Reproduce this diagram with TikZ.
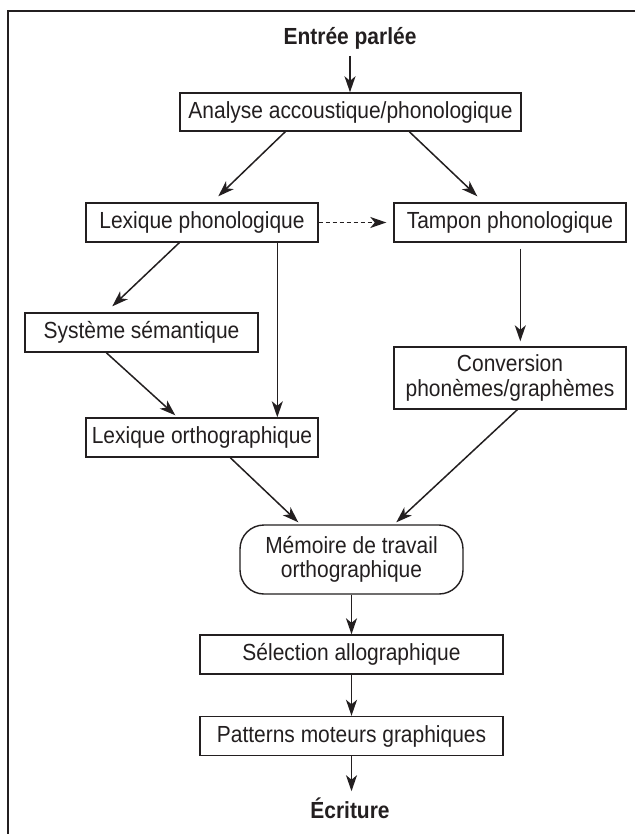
\documentclass[tikz,border=0pt]{standalone}
\usepackage{fontspec}
\setmainfont{Liberation Sans}[FakeStretch=0.9]
\usetikzlibrary{arrows.meta,calc}
\definecolor{ink}{HTML}{231F20}
\begin{document}
\begin{tikzpicture}[x=1pt,y=-1pt,
  every node/.style={font=\fontsize{23.3}{24.5}\selectfont, text=ink},
  boxnode/.style={draw=ink, line width=1.4pt, inner sep=0pt, align=center},
  memnode/.style={boxnode, rounded corners=24pt},
  titlenode/.style={font=\fontsize{23.3}{24.5}\selectfont\bfseries, anchor=base, inner sep=0pt},
  conn/.style={draw=ink, line width=1.5pt, -{Stealth[length=16pt,width=11pt,inset=4.5pt]}},
  dconn/.style={conn, dash pattern=on 4pt off 3pt}]
\useasboundingbox (0,0) rectangle (635,834);
\fill[white] (0,0) rectangle (635,834);
% frame
\coordinate (fr1) at (635,11);
\coordinate (fr2) at (8,11);
\coordinate (fr3) at (8,834);
\draw[ink, line width=1.7pt] (fr1) -- (fr2) -- (fr3);

\node[titlenode] (entree) at (350,45) {Entrée parlée};
\node[boxnode, minimum width=341pt, minimum height=38pt] (ana) at (350.5,112) {Analyse accoustique/phonologique};
\node[boxnode, minimum width=232pt, minimum height=39pt] (lp) at (202,222.5) {Lexique phonologique};
\node[boxnode, minimum width=232pt, minimum height=39pt] (tp) at (510,222.5) {Tampon phonologique};
\node[boxnode, minimum width=233pt, minimum height=39pt] (ss) at (141.5,332.5) {Système sémantique};
\node[boxnode, minimum width=232pt, minimum height=62pt] (conv) at (510,378) {Conversion\\phonèmes/graphèmes};
\node[boxnode, minimum width=232pt, minimum height=39pt] (lo) at (202,437.5) {Lexique orthographique};
\node[memnode, minimum width=223pt, minimum height=69pt] (mem) at (351.5,559.5) {Mémoire de travail\\orthographique};
\node[boxnode, minimum width=303pt, minimum height=39pt] (sel) at (351.5,654.5) {Sélection allographique};
\node[boxnode, minimum width=303pt, minimum height=39pt] (pat) at (351.5,736) {Patterns moteurs graphiques};
\node[titlenode] (ecr) at (350,818) {Écriture};

% connectors
\draw[conn] ($(entree.base)+(0,11)$) -- (ana.north -| entree.base);
\draw[conn] ($(ana.south west)+(106,0)$) -- ($(lp.north west)+(133,-6)$);
\draw[conn] ($(ana.south west)+(230,0)$) -- ($(tp.north west)+(84,-6)$);
\draw[dconn] (lp.east) -- ($(tp.west)+(-7,0)$);
\draw[conn] ($(lp.south west)+(94,0)$) -- ($(ss.north west)+(88,-6)$);
\draw[conn] ($(lp.south west)+(192,0)$) -- ($(lo.north west)+(192,0)$);
\draw[conn] ($(tp.south west)+(127,6)$) -- ($(conv.north west)+(127,-5)$);
\draw[conn] ($(ss.south west)+(82,0)$) -- ($(lo.north west)+(90,-2)$);
\draw[conn] ($(lo.south west)+(145,0)$) -- ($(mem.north west)+(59,-2)$);
\draw[conn] ($(conv.south west)+(124,0)$) -- ($(mem.north west)+(157,-2)$);
\draw[conn] (mem.south) -- (sel.north);
\draw[conn] (sel.south) -- (pat.north);
\draw[conn] (pat.south) -- ($(pat.south)+(0,35)$);
\end{tikzpicture}
\end{document}
